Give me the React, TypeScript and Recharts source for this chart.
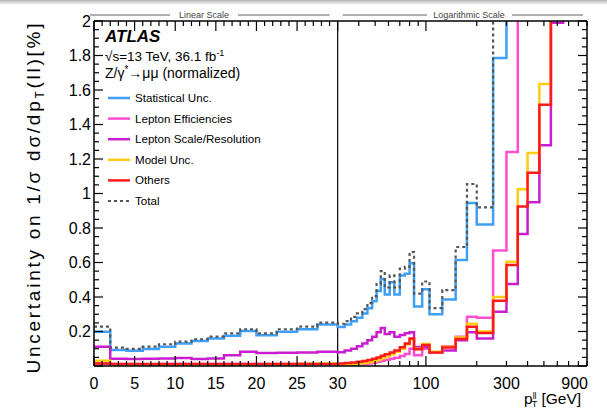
import React from 'react'
import { LineChart, Line, XAxis, YAxis, ReferenceLine } from 'recharts'

// bin edges in GeV (linear below 30, log above)
const binEdges = [0, 2, 4, 6, 8, 10, 12, 14, 16, 18, 20, 22.5, 25, 27.5, 30, 33, 36, 39, 42, 45, 48, 51, 54, 57, 61, 65, 70, 75, 80, 85, 95, 105, 125, 150, 175, 200, 250, 300, 350, 400, 470, 550, 650, 900]

// one value per bin, in %
const statUnc = [
  0.199, 0.093, 0.089, 0.099, 0.112, 0.131, 0.145, 0.16, 0.176, 0.203, 0.178, 0.199, 0.213, 0.24,
  0.226, 0.24, 0.26, 0.28, 0.305, 0.335, 0.375, 0.435, 0.505, 0.415, 0.485, 0.415, 0.525, 0.535, 0.595,
  0.345, 0.445, 0.3, 0.385, 0.615, 0.945, 0.82, 1.785, 2.6, 3.2, 3.9, 4.6, 5.5, 7.0,
]
const leptonEff = [
  0.013, 0.011, 0.011, 0.01, 0.011, 0.011, 0.012, 0.011, 0.011, 0.012, 0.011, 0.011, 0.012, 0.011,
  0.008, 0.008, 0.009, 0.01, 0.012, 0.015, 0.019, 0.024, 0.03, 0.036, 0.042, 0.048, 0.058, 0.07, 0.1,
  0.062, 0.1, 0.08, 0.115, 0.17, 0.285, 0.28, 0.67, 1.24, 2.3, 2.8, 3.4, 4.2, 5.0,
]
const leptonScale = [
  0.112, 0.042, 0.04, 0.042, 0.043, 0.046, 0.04, 0.044, 0.063, 0.083, 0.075, 0.077, 0.078, 0.083,
  0.08, 0.09, 0.1, 0.115, 0.13, 0.15, 0.17, 0.195, 0.22, 0.185, 0.195, 0.17, 0.18, 0.19, 0.195,
  0.11, 0.11, 0.08, 0.09, 0.15, 0.195, 0.16, 0.315, 0.475, 0.765, 0.95, 1.28, 1.99, 3.5,
]
const modelUnc = [
  0.03, 0.01, 0.008, 0.008, 0.008, 0.008, 0.008, 0.008, 0.009, 0.009, 0.01, 0.011, 0.013, 0.014,
  0.009, 0.01, 0.012, 0.015, 0.018, 0.022, 0.028, 0.035, 0.045, 0.055, 0.068, 0.082, 0.1, 0.125, 0.155,
  0.1, 0.127, 0.082, 0.112, 0.165, 0.245, 0.2, 0.4, 0.605, 1.025, 1.235, 1.635, 2.6, 3.5,
]
const others = [
  0.015, 0.012, 0.011, 0.011, 0.011, 0.011, 0.011, 0.011, 0.011, 0.011, 0.011, 0.011, 0.011, 0.011,
  0.014, 0.017, 0.02, 0.024, 0.029, 0.035, 0.042, 0.05, 0.06, 0.068, 0.078, 0.09, 0.108, 0.13, 0.16,
  0.097, 0.122, 0.078, 0.107, 0.157, 0.228, 0.192, 0.378, 0.585, 0.925, 1.12, 1.515, 2.6, 3.5,
]
const total = [
  0.228, 0.106, 0.099, 0.112, 0.126, 0.141, 0.155, 0.17, 0.189, 0.213, 0.189, 0.213, 0.228, 0.251,
  0.245, 0.26, 0.285, 0.305, 0.33, 0.365, 0.405, 0.475, 0.55, 0.455, 0.525, 0.455, 0.565, 0.575, 0.66,
  0.42, 0.49, 0.335, 0.44, 0.69, 1.055, 0.92, 2.3, 3.0, 3.6, 4.3, 5.0, 6.0, 7.5,
]

const series = [
  { key: 'stat', name: 'Statistical Unc.', color: '#3f9ff5', values: statUnc },
  { key: 'eff', name: 'Lepton Efficiencies', color: '#ff4ed0', values: leptonEff },
  { key: 'scale', name: 'Lepton Scale/Resolution', color: '#c81ecf', values: leptonScale },
  { key: 'model', name: 'Model Unc.', color: '#ffcc11', values: modelUnc },
  { key: 'others', name: 'Others', color: '#ff1a1a', values: others },
  { key: 'total', name: 'Total', color: '#555555', values: total, dash: '3 3' },
]

const linearTicks = [0, 1, 2, 3, 4, 5, 6, 7, 8, 9, 10, 11, 12, 13, 14, 15, 16, 17, 18, 19, 20, 21, 22, 23, 24, 25, 26, 27, 28, 29, 30]
const logTicks = [40, 50, 60, 70, 80, 90, 100, 200, 300, 400, 500, 600, 700, 800, 900]
const xTickLabels = ['0', '5', '10', '15', '20', '25', '30', '100', '300', '900']
const xMajorTicks = [0, 5, 10, 15, 20, 25, 30, 100]
const yTicks = [0, 0.05, 0.1, 0.15, 0.2, 0.25, 0.3, 0.35, 0.4, 0.45, 0.5, 0.55, 0.6, 0.65, 0.7, 0.75, 0.8, 0.85, 0.9, 0.95, 1,
  1.05, 1.1, 1.15, 1.2, 1.25, 1.3, 1.35, 1.4, 1.45, 1.5, 1.55, 1.6, 1.65, 1.7, 1.75, 1.8, 1.85, 1.9, 1.95, 2]
const yTickLabels = ['0.2', '0.4', '0.6', '0.8', '1', '1.2', '1.4', '1.6', '1.8', '2']

const FONT = '"Liberation Sans", Arial, Helvetica, sans-serif'
const W = 607
const H = 408
// axes are 1px wide/high, so the plot box is 94..587 x 21..366
const M = { top: 20, right: 19, bottom: 41, left: 93 }

// linear up to 30 GeV, then log10 with 20.78 axis units per decade
const LIN_MAX = 30
const LOG_K = 20.78
const toAxis = (pt: number) => (pt <= LIN_MAX ? pt : LIN_MAX + LOG_K * Math.log10(pt / LIN_MAX))
const X_MAX = toAxis(900)

const nBins = binEdges.length - 1
const rows = binEdges.map((e, i) => {
  const j = Math.min(i, nBins - 1)
  const r: Record<string, number> = { x: toAxis(e) }
  series.forEach((s) => { r[s.key] = s.values[j] })
  return r
})

const xTickList = [...linearTicks, ...logTicks].map((pt) => ({
  pt,
  t: toAxis(pt),
  major: xMajorTicks.includes(pt),
  label: xTickLabels.includes(String(pt)) ? String(pt) : '',
}))

const XTick = (props: any) => {
  const { x, y, payload, side } = props
  const tk = xTickList.find((k) => Math.abs(k.t - payload.value) < 1e-6)
  if (!tk) return <g />
  const len = tk.major ? 10 : 5
  const dir = side === 'bottom' ? -1 : 1
  const last = tk.pt === 900
  return (
    <g>
      <line x1={x} x2={x} y1={y} y2={y + dir * len} stroke="#000" strokeWidth={1.2} />
      {side === 'bottom' && tk.label && (
        <text x={last ? x + 1 : x} y={y + 23} textAnchor={last ? 'end' : 'middle'} fontSize={16} fill="#000" style={{ fontFamily: FONT }}>
          {tk.label}
        </text>
      )}
    </g>
  )
}

const YTick = (props: any) => {
  const { x, y, payload, side } = props
  const v = payload.value
  const major = Math.abs(v / 0.2 - Math.round(v / 0.2)) < 1e-6
  const label = yTickLabels.find((l) => Math.abs(Number(l) - v) < 1e-6)
  const len = major ? 9 : 5
  const dir = side === 'left' ? 1 : -1
  return (
    <g>
      <line x1={x} x2={x + dir * len} y1={y} y2={y} stroke="#000" strokeWidth={1.2} />
      {side === 'left' && label && (
        <text x={x - 3} y={y + 5.7} textAnchor="end" fontSize={16} fill="#000" style={{ fontFamily: FONT }}>
          {label}
        </text>
      )}
    </g>
  )
}

const plotLeft = M.left + 1
const plotRight = W - M.right - 1
const splitX = plotLeft + ((plotRight - plotLeft) * LIN_MAX) / X_MAX

export default function App() {
  return (
    <div style={{ position: 'fixed', left: 0, top: 0, width: W, height: H, background: '#fff', overflow: 'hidden' }}>
      <div style={{ position: 'absolute', left: 0, top: 0, width: W, height: 5, background: 'linear-gradient(#b5b5b5, #fff)' }} />
      <LineChart width={W} height={H} data={rows} margin={M}>
        <XAxis xAxisId="b" dataKey="x" type="number" domain={[0, X_MAX]} allowDataOverflow ticks={xTickList.map((k) => k.t)}
          interval={0} height={1} tickSize={0} tickMargin={0} tickLine={false}
          axisLine={{ stroke: '#000', strokeWidth: 1.5 }} tick={(p: any) => <XTick {...p} side="bottom" />} />
        <XAxis xAxisId="t" orientation="top" dataKey="x" type="number" domain={[0, X_MAX]} allowDataOverflow ticks={xTickList.map((k) => k.t)}
          interval={0} height={1} tickSize={0} tickMargin={0} tickLine={false}
          axisLine={{ stroke: '#000', strokeWidth: 1.5 }} tick={(p: any) => <XTick {...p} side="top" />} />
        <YAxis yAxisId="l" type="number" domain={[0, 2]} allowDataOverflow ticks={yTicks} interval={0} width={1}
          tickSize={0} tickMargin={0} tickLine={false} axisLine={{ stroke: '#000', strokeWidth: 1.5 }}
          tick={(p: any) => <YTick {...p} side="left" />} />
        <YAxis yAxisId="r" orientation="right" type="number" domain={[0, 2]} allowDataOverflow ticks={yTicks} interval={0} width={1}
          tickSize={0} tickMargin={0} tickLine={false} axisLine={{ stroke: '#000', strokeWidth: 1.5 }}
          tick={(p: any) => <YTick {...p} side="right" />} />
        <ReferenceLine xAxisId="b" yAxisId="l" x={LIN_MAX} stroke="#000" strokeWidth={1.2} />
        {series.map((s) => (
          <Line key={s.key} xAxisId="b" yAxisId="l" type="stepAfter" dataKey={s.key} stroke={s.color}
            strokeWidth={s.dash ? 2.2 : 2.5} strokeDasharray={s.dash} dot={false} activeDot={false} isAnimationActive={false} />
        ))}
      </LineChart>
      <svg width={W} height={H} style={{ position: 'absolute', left: 0, top: 0, pointerEvents: 'none', fontFamily: FONT }}>
        {/* scale headers */}
        <g stroke="#b0b0b0" strokeWidth={2}>
          <line x1={90} x2={170} y1={15} y2={15} />
          <line x1={238} x2={splitX - 8} y1={15} y2={15} />
          <line x1={splitX + 5} x2={427} y1={15} y2={15} />
          <line x1={512} x2={plotRight - 4} y1={15} y2={15} />
        </g>
        <text x={204} y={18} textAnchor="middle" fontSize={9} fill="#444">Linear Scale</text>
        <text x={469} y={18} textAnchor="middle" fontSize={9} fill="#444">Logarithmic Scale</text>

        <text x={105} y={42} fontSize={17} fontWeight="bold" fontStyle="italic" fill="#000">ATLAS</text>
        <text x={105} y={61} fontSize={13.5} fill="#000">
          √s=13 TeV, 36.1 fb<tspan dy={-5} fontSize={9}>-1</tspan>
        </text>
        <text x={105} y={78} fontSize={14} fill="#000">
          Z/γ<tspan dy={-5} fontSize={10}>*</tspan><tspan dy={5}>→μμ (normalized)</tspan>
        </text>
        {series.map((s, i) => {
          const cy = 98 + i * 20.6
          return (
            <g key={s.key}>
              <line x1={108} x2={130} y1={cy} y2={cy} stroke={s.color} strokeWidth={s.dash ? 2.2 : 2.5} strokeDasharray={s.dash} />
              <text x={135} y={cy + 4} fontSize={11.6} fill="#000">{s.name}</text>
            </g>
          )
        })}

        <text transform="rotate(-90)" x={-198.5} y={40} textAnchor="middle" fontSize={19} fill="#000" textLength={350} lengthAdjust="spacing">
          Uncertainty on 1/σ dσ/dp<tspan dy={4} fontSize={12}>T</tspan><tspan dy={-4} fontSize={19}>(ll)[%]</tspan>
        </text>
        <text x={524} y={404} fontSize={15.5} fill="#000">
          p<tspan dy={-5} fontSize={9}>ll</tspan><tspan dx={-5} dy={8} fontSize={9}>T</tspan><tspan dy={-3} fontSize={15.5}> [GeV]</tspan>
        </text>
      </svg>
    </div>
  )
}
